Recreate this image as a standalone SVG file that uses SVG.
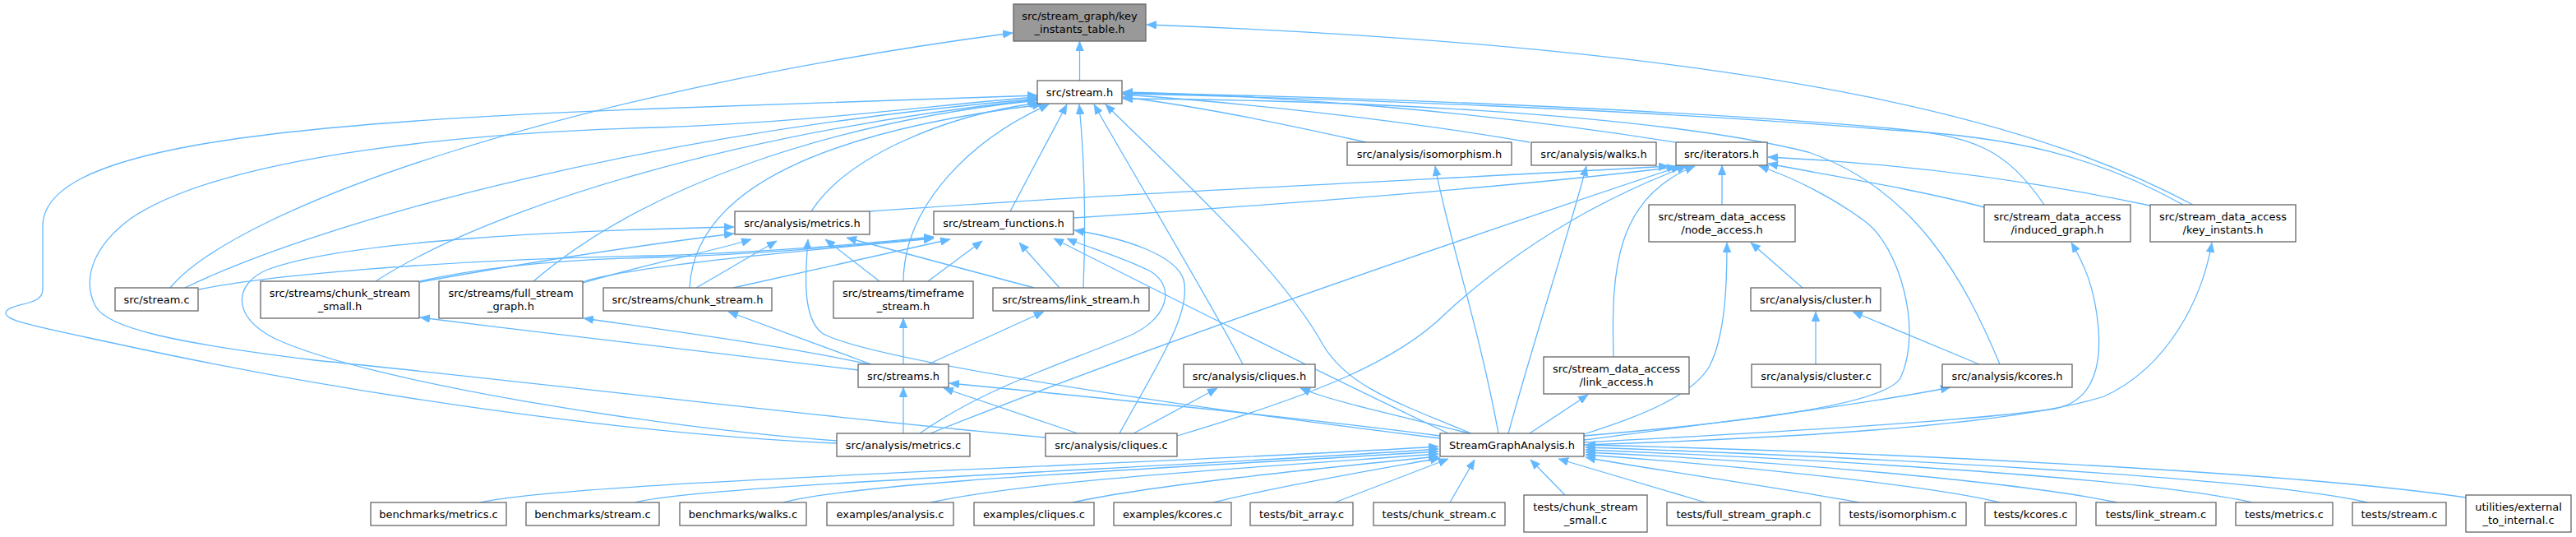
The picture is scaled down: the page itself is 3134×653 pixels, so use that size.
<svg xmlns="http://www.w3.org/2000/svg" width="3134" height="653" viewBox="0 0 3134 653">
<style>
.n rect{fill:#ffffff;stroke:#666666;stroke-width:1.3}
.n.root rect{fill:#999999}
.n text{font-family:"DejaVu Sans","Liberation Sans",sans-serif;font-size:13px;fill:#000000;text-anchor:middle}
#edges path{fill:none;stroke:#63b8ff;stroke-width:1.3;marker-end:url(#arr)}
</style>
<defs>
<marker id="arr" markerUnits="userSpaceOnUse" viewBox="0 0 12 10" markerWidth="12" markerHeight="10" refX="12" refY="5" orient="auto">
<path d="M0,0 L12,5 L0,10 z" fill="#63b8ff" stroke="#63b8ff" stroke-width="0.5"/>
</marker>
</defs>
<rect width="3134" height="653" fill="#ffffff"/>
<g id="edges">
<path d="M1313.5,98 L1313.5,50"/>
<path d="M207,350 C290,250 700,110 1232,40"/>
<path d="M2668,249 C2500,160 2200,60 1395,30"/>
<path d="M225,350 C400,265 800,160 1262,120"/>
<path d="M457,342 C600,250 900,160 1262,121"/>
<path d="M649,342 C780,230 1000,150 1262,122"/>
<path d="M1018,539 C760,528 420,478 160,422 C40,396 0,390 8,378 C16,368 52,372 52,352 L52,275 C52,185 300,150 800,132 C1000,126 1150,119 1262,116"/>
<path d="M1272,532 C1000,508 700,470 383,438 C220,418 130,400 116,372 C100,340 112,300 160,265 C280,185 600,160 800,155 C1000,148 1150,126 1262,118"/>
<path d="M987,257 C1030,190 1150,140 1264,125"/>
<path d="M839,350 C845,230 1000,160 1268,127"/>
<path d="M1099,342 C1100,250 1180,170 1276,127"/>
<path d="M1229,257 L1298,127"/>
<path d="M1318,350 C1322,250 1318,180 1313,127"/>
<path d="M1512,443 C1480,380 1390,230 1331,127"/>
<path d="M1790,527 C1700,490 1640,470 1610,420 C1560,330 1450,230 1345,127"/>
<path d="M1662,173 C1560,150 1450,128 1366,118"/>
<path d="M1861,173 C1700,145 1500,124 1366,115"/>
<path d="M2038,173 C1800,135 1550,116 1366,112"/>
<path d="M2487,249 C2440,180 2400,165 2300,156 C2000,130 1600,117 1366,113"/>
<path d="M2656,249 C2550,190 2450,166 2300,158 C2000,133 1600,119 1366,114"/>
<path d="M2433,443 C2390,340 2330,230 2200,185 C2000,135 1600,121 1366,120"/>
<path d="M1058,257 C1400,232 1800,216 2030,202"/>
<path d="M1306,265 C1600,246 1850,226 2040,203"/>
<path d="M1132,527 C1400,420 1750,300 2045,202"/>
<path d="M1432,530 C1600,480 1700,440 1760,380 C1880,270 2000,222 2052,202"/>
<path d="M1963,434 C1960,330 1965,240 2062,202"/>
<path d="M2095,249 L2095,201"/>
<path d="M1927,530 C2100,515 2290,495 2312,460 C2340,400 2310,300 2270,270 C2230,240 2180,215 2140,202"/>
<path d="M2414,252 C2330,230 2230,214 2151,199"/>
<path d="M2616,250 C2450,215 2300,198 2151,191"/>
<path d="M1927,528 C2000,505 2060,480 2080,445 C2100,405 2101,340 2101,295"/>
<path d="M2193,350 L2130,295"/>
<path d="M1861,527 L1932,480"/>
<path d="M2209,443 L2209,379"/>
<path d="M2408,443 L2254,379"/>
<path d="M1927,535 C2100,512 2250,495 2373,471"/>
<path d="M1927,538 C2150,526 2400,512 2500,497 C2550,487 2556,440 2553,400 C2549,350 2535,320 2520,295"/>
<path d="M1927,541 C2200,532 2450,516 2560,482 C2640,445 2680,360 2691,295"/>
<path d="M1018,536 C800,520 450,465 335,412 C280,385 285,345 325,328 C420,292 700,280 893,276"/>
<path d="M511,343 C650,318 780,298 893,284"/>
<path d="M709,344 C790,320 870,305 914,291"/>
<path d="M847,350 L945,293"/>
<path d="M1752,533 C1400,490 1050,435 1000,405 C975,385 980,330 983,291"/>
<path d="M1070,342 L1004,291"/>
<path d="M1258,350 L1030,289"/>
<path d="M242,352 C350,330 600,314 800,311 C950,306 1050,296 1136,288"/>
<path d="M511,342 C600,322 700,315 800,313 C950,308 1050,297 1136,289"/>
<path d="M709,343 C760,325 950,307 1136,290"/>
<path d="M892,350 L1156,291"/>
<path d="M1129,342 L1195,293"/>
<path d="M1289,350 L1240,295"/>
<path d="M1762,527 C1620,460 1460,380 1282,290"/>
<path d="M1119,527 C1200,470 1300,440 1370,410 C1420,390 1432,350 1400,330 C1360,310 1320,300 1298,290"/>
<path d="M1362,527 C1410,440 1450,380 1440,340 C1430,310 1370,290 1307,280"/>
<path d="M1060,443 L886,379"/>
<path d="M1099,443 L1099,387"/>
<path d="M1129,443 L1270,379"/>
<path d="M1044,450 C900,432 700,410 511,386"/>
<path d="M1058,443 C950,420 800,400 710,387"/>
<path d="M1099,527 L1099,471"/>
<path d="M1311,527 L1148,472"/>
<path d="M1752,530 C1600,510 1300,480 1155,466"/>
<path d="M1379,527 L1481,472"/>
<path d="M1788,527 C1700,505 1620,488 1582,472"/>
<path d="M1823,527 C1800,400 1760,280 1746,202"/>
<path d="M1835,527 C1870,400 1910,280 1930,202"/>
<path d="M584,611 C700,585 1400,565 1750,543"/>
<path d="M773,611 C850,590 1400,570 1750,546"/>
<path d="M953,611 C1050,585 1450,568 1750,549"/>
<path d="M1132,611 C1250,585 1500,570 1750,552"/>
<path d="M1305,611 C1400,590 1600,570 1750,555"/>
<path d="M1476,611 C1560,590 1680,570 1752,557"/>
<path d="M1624,611 L1762,558"/>
<path d="M1764,611 L1794,559"/>
<path d="M1904,602 L1862,559"/>
<path d="M2075,611 L1896,558"/>
<path d="M2262,611 C2150,590 2000,570 1929,556"/>
<path d="M2433,611 C2350,590 2100,565 1929,553"/>
<path d="M2576,611 C2450,585 2150,560 1929,550"/>
<path d="M2740,611 C2600,580 2200,558 1929,547"/>
<path d="M2880,611 C2750,580 2250,555 1929,544"/>
<path d="M3000,605 C2800,575 2300,550 1929,541"/>
</g>
<g id="n_key_instants_table" class="n root"><rect x="1233" y="5" width="161" height="45"/><text x="1313.5" y="23.5">src/stream_graph/key</text><text x="1313.5" y="40">_instants_table.h</text></g>
<g id="n_stream_h" class="n"><rect x="1262" y="98" width="103" height="28"/><text x="1313.5" y="116.5">src/stream.h</text></g>
<g id="n_isomorphism_h" class="n"><rect x="1639" y="173" width="200" height="28"/><text x="1739" y="191.5">src/analysis/isomorphism.h</text></g>
<g id="n_walks_h" class="n"><rect x="1863" y="173" width="152" height="28"/><text x="1939" y="191.5">src/analysis/walks.h</text></g>
<g id="n_iterators_h" class="n"><rect x="2039" y="173" width="111" height="28"/><text x="2094.5" y="191.5">src/iterators.h</text></g>
<g id="n_metrics_h" class="n"><rect x="894" y="257" width="164" height="28"/><text x="976" y="275.5">src/analysis/metrics.h</text></g>
<g id="n_stream_functions_h" class="n"><rect x="1136" y="257" width="170" height="28"/><text x="1221" y="275.5">src/stream_functions.h</text></g>
<g id="n_node_access_h" class="n"><rect x="2006" y="249" width="178" height="45"/><text x="2095" y="267.5">src/stream_data_access</text><text x="2095" y="284">/node_access.h</text></g>
<g id="n_induced_graph_h" class="n"><rect x="2414" y="249" width="178" height="45"/><text x="2503" y="267.5">src/stream_data_access</text><text x="2503" y="284">/induced_graph.h</text></g>
<g id="n_key_instants_h" class="n"><rect x="2616" y="249" width="177" height="45"/><text x="2704.5" y="267.5">src/stream_data_access</text><text x="2704.5" y="284">/key_instants.h</text></g>
<g id="n_stream_c" class="n"><rect x="140" y="350" width="101" height="28"/><text x="190.5" y="368.5">src/stream.c</text></g>
<g id="n_chunk_stream_small_h" class="n"><rect x="317" y="342" width="193" height="45"/><text x="413.5" y="360.5">src/streams/chunk_stream</text><text x="413.5" y="377">_small.h</text></g>
<g id="n_full_stream_graph_h" class="n"><rect x="534" y="342" width="175" height="45"/><text x="621.5" y="360.5">src/streams/full_stream</text><text x="621.5" y="377">_graph.h</text></g>
<g id="n_chunk_stream_h" class="n"><rect x="734" y="350" width="205" height="28"/><text x="836.5" y="368.5">src/streams/chunk_stream.h</text></g>
<g id="n_timeframe_stream_h" class="n"><rect x="1014" y="342" width="170" height="45"/><text x="1099" y="360.5">src/streams/timeframe</text><text x="1099" y="377">_stream.h</text></g>
<g id="n_link_stream_h" class="n"><rect x="1208" y="350" width="190" height="28"/><text x="1303" y="368.5">src/streams/link_stream.h</text></g>
<g id="n_cluster_h" class="n"><rect x="2130" y="350" width="158" height="28"/><text x="2209" y="368.5">src/analysis/cluster.h</text></g>
<g id="n_streams_h" class="n"><rect x="1044" y="443" width="110" height="28"/><text x="1099" y="461.5">src/streams.h</text></g>
<g id="n_cliques_h" class="n"><rect x="1440" y="443" width="160" height="28"/><text x="1520" y="461.5">src/analysis/cliques.h</text></g>
<g id="n_link_access_h" class="n"><rect x="1878" y="434" width="177" height="45"/><text x="1966.5" y="452.5">src/stream_data_access</text><text x="1966.5" y="469">/link_access.h</text></g>
<g id="n_cluster_c" class="n"><rect x="2131" y="443" width="157" height="28"/><text x="2209.5" y="461.5">src/analysis/cluster.c</text></g>
<g id="n_kcores_h" class="n"><rect x="2363" y="443" width="158" height="28"/><text x="2442" y="461.5">src/analysis/kcores.h</text></g>
<g id="n_metrics_c" class="n"><rect x="1018" y="527" width="162" height="28"/><text x="1099" y="545.5">src/analysis/metrics.c</text></g>
<g id="n_cliques_c" class="n"><rect x="1272" y="527" width="160" height="28"/><text x="1352" y="545.5">src/analysis/cliques.c</text></g>
<g id="n_sga_h" class="n"><rect x="1752" y="527" width="175" height="28"/><text x="1839.5" y="545.5">StreamGraphAnalysis.h</text></g>
<g id="n_b_metrics_c" class="n"><rect x="451" y="611" width="165" height="28"/><text x="533.5" y="629.5">benchmarks/metrics.c</text></g>
<g id="n_b_stream_c" class="n"><rect x="640" y="611" width="162" height="28"/><text x="721" y="629.5">benchmarks/stream.c</text></g>
<g id="n_b_walks_c" class="n"><rect x="827" y="611" width="154" height="28"/><text x="904" y="629.5">benchmarks/walks.c</text></g>
<g id="n_e_analysis_c" class="n"><rect x="1006" y="611" width="154" height="28"/><text x="1083" y="629.5">examples/analysis.c</text></g>
<g id="n_e_cliques_c" class="n"><rect x="1185" y="611" width="146" height="28"/><text x="1258" y="629.5">examples/cliques.c</text></g>
<g id="n_e_kcores_c" class="n"><rect x="1355" y="611" width="143" height="28"/><text x="1426.5" y="629.5">examples/kcores.c</text></g>
<g id="n_t_bit_array_c" class="n"><rect x="1521" y="611" width="125" height="28"/><text x="1583.5" y="629.5">tests/bit_array.c</text></g>
<g id="n_t_chunk_stream_c" class="n"><rect x="1671" y="611" width="160" height="28"/><text x="1751" y="629.5">tests/chunk_stream.c</text></g>
<g id="n_t_chunk_stream_small_c" class="n"><rect x="1854" y="602" width="150" height="45"/><text x="1929" y="620.5">tests/chunk_stream</text><text x="1929" y="637">_small.c</text></g>
<g id="n_t_full_stream_graph_c" class="n"><rect x="2028" y="611" width="187" height="28"/><text x="2121.5" y="629.5">tests/full_stream_graph.c</text></g>
<g id="n_t_isomorphism_c" class="n"><rect x="2238" y="611" width="154" height="28"/><text x="2315" y="629.5">tests/isomorphism.c</text></g>
<g id="n_t_kcores_c" class="n"><rect x="2415" y="611" width="111" height="28"/><text x="2470.5" y="629.5">tests/kcores.c</text></g>
<g id="n_t_link_stream_c" class="n"><rect x="2550" y="611" width="146" height="28"/><text x="2623" y="629.5">tests/link_stream.c</text></g>
<g id="n_t_metrics_c" class="n"><rect x="2720" y="611" width="118" height="28"/><text x="2779" y="629.5">tests/metrics.c</text></g>
<g id="n_t_stream_c" class="n"><rect x="2862" y="611" width="114" height="28"/><text x="2919" y="629.5">tests/stream.c</text></g>
<g id="n_u_external_to_internal_c" class="n"><rect x="3000" y="602" width="128" height="45"/><text x="3064" y="620.5">utilities/external</text><text x="3064" y="637">_to_internal.c</text></g>
</svg>
